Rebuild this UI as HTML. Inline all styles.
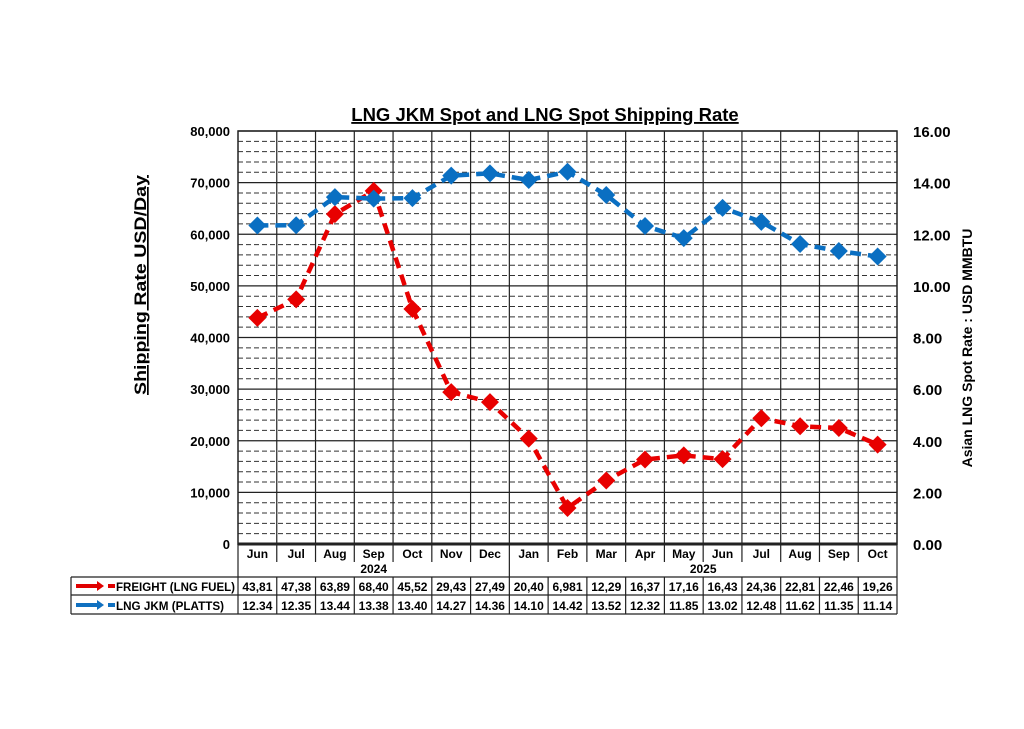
<!DOCTYPE html>
<html><head><meta charset="utf-8"><style>
body{margin:0;background:#fff;width:1024px;height:724px;overflow:hidden;font-family:"Liberation Sans",Arial,sans-serif}
</style></head><body>
<svg id="c" width="1024" height="724" xmlns="http://www.w3.org/2000/svg" font-family="Liberation Sans, Arial, sans-serif"></svg>
<script>
const months=["Jun","Jul","Aug","Sep","Oct","Nov","Dec","Jan","Feb","Mar","Apr","May","Jun","Jul","Aug","Sep","Oct"];
const freight=[43810,47380,63890,68400,45520,29430,27490,20400,6981,12290,16370,17160,16430,24360,22810,22460,19260];
const freightLabels=["43,81","47,38","63,89","68,40","45,52","29,43","27,49","20,40","6,981","12,29","16,37","17,16","16,43","24,36","22,81","22,46","19,26"];
const jkm=[12.34,12.35,13.44,13.38,13.40,14.27,14.36,14.10,14.42,13.52,12.32,11.85,13.02,12.48,11.62,11.35,11.14];
const leftTicks=[0,10000,20000,30000,40000,50000,60000,70000,80000];
const rightTicks=[0,2,4,6,8,10,12,14,16];

const svg=document.getElementById('c');const NS="http://www.w3.org/2000/svg";
const L=238,R=897,T=131,B=544,W=(R-L)/months.length;
const yL=v=>B-v/80000*(B-T), yR=v=>B-v/16*(B-T), xC=i=>L+W*(i+0.5);
function el(t,a,txt){const e=document.createElementNS(NS,t);for(const k in a)e.setAttribute(k,a[k]);if(txt!=null)e.textContent=txt;svg.appendChild(e);return e;}
let e;
for(let v=2000;v<80000;v+=2000){if(v%10000===0)continue;
e=el('line',{x1:L,x2:R,y1:yL(v),y2:yL(v),stroke:'#333','stroke-width':1,'stroke-dasharray':'5,3'});
}
leftTicks.forEach(v=>{e=el('line',{x1:L,x2:R,y1:yL(v),y2:yL(v),stroke:'#222','stroke-width':1.2});

e=el('text',{x:L-8,y:yL(v)+5,'text-anchor':'end','font-size':13,'font-weight':'bold'},v.toLocaleString('en-US'));
});
rightTicks.forEach(v=>{e=el('text',{x:913,y:yR(v)+6,'font-size':15,'font-weight':'bold'},v.toFixed(2));
});
for(let i=1;i<months.length;i++){e=el('line',{x1:L+W*i,x2:L+W*i,y1:T,y2:i===7?577:562,stroke:'#222','stroke-width':1.2});
}
e=el('rect',{x:L,y:T,width:R-L,height:B-T,fill:'none',stroke:'#222','stroke-width':1.5});

e=el('line',{x1:L,x2:R,y1:B,y2:B,stroke:'#222','stroke-width':3});

e=el('line',{x1:L,x2:L,y1:B,y2:614,stroke:'#222','stroke-width':1.2});
e=el('line',{x1:R,x2:R,y1:B,y2:614,stroke:'#222','stroke-width':1.2});
[577,595,614].forEach(y=>{e=el('line',{x1:71,x2:R,y1:y,y2:y,stroke:'#222','stroke-width':1.2});});
e=el('line',{x1:71,x2:71,y1:577,y2:614,stroke:'#222','stroke-width':1.2});
for(let i=1;i<months.length;i++){e=el('line',{x1:L+W*i,x2:L+W*i,y1:577,y2:614,stroke:'#222','stroke-width':1.2});}
months.forEach((m,i)=>{e=el('text',{x:xC(i),y:558,'text-anchor':'middle','font-size':12,'font-weight':'bold'},m);

e=el('text',{x:xC(i),y:591,'text-anchor':'middle','font-size':12,'font-weight':'bold'},freightLabels[i]);

e=el('text',{x:xC(i),y:610,'text-anchor':'middle','font-size':12,'font-weight':'bold'},jkm[i].toFixed(2));
});
e=el('text',{x:xC(3),y:573,'text-anchor':'middle','font-size':12,'font-weight':'bold'},'2024');
e=el('text',{x:xC(11)+W/2,y:573,'text-anchor':'middle','font-size':12,'font-weight':'bold'},'2025');
[[586,'#e00000','FREIGHT (LNG FUEL)','legend-freight'],[605,'#1070c0','LNG JKM (PLATTS)','legend-jkm']].forEach(([y,c,t,n])=>{
e=el('line',{x1:76,x2:99,y1:y,y2:y,stroke:c,'stroke-width':4});
e=el('polygon',{points:`97,${y-5} 104,${y} 97,${y+5}`,fill:c});
e=el('line',{x1:108,x2:115,y1:y,y2:y,stroke:c,'stroke-width':4});
e=el('text',{x:116,y:y+5,'font-size':12,'font-weight':'bold',textLength:t.length>17?119:108,lengthAdjust:'spacingAndGlyphs'},t);});
function series(vals,yf,c,n){
const pts=vals.map((v,i)=>xC(i)+','+yf(v)).join(' ');
e=el('polyline',{points:pts,fill:'none',stroke:c,'stroke-width':4.5,'stroke-dasharray':'11,7','stroke-linejoin':'round'});

vals.forEach((v,i)=>{const x=xC(i),y=yf(v);
e=el('polygon',{points:`${x},${y-9} ${x+9},${y} ${x},${y+9} ${x-9},${y}`,fill:c});
});}
series(freight,yL,'#e80000','freight');
series(jkm,yR,'#0a6fc2','jkm');
e=el('text',{x:545,y:121,'text-anchor':'middle','font-size':18.5,'font-weight':'bold','text-decoration':'underline'},'LNG JKM Spot and LNG Spot Shipping Rate');

e=el('text',{x:0,y:0,transform:'translate(146,285) rotate(-90)','text-anchor':'middle','font-size':17,'font-weight':'bold','text-decoration':'underline',textLength:220,lengthAdjust:'spacingAndGlyphs'},'Shipping Rate USD/Day');

e=el('text',{x:0,y:0,transform:'translate(972,348) rotate(-90)','text-anchor':'middle','font-size':14,'font-weight':'bold'},'Asian LNG Spot Rate : USD MMBTU');

</script>
</body></html>
